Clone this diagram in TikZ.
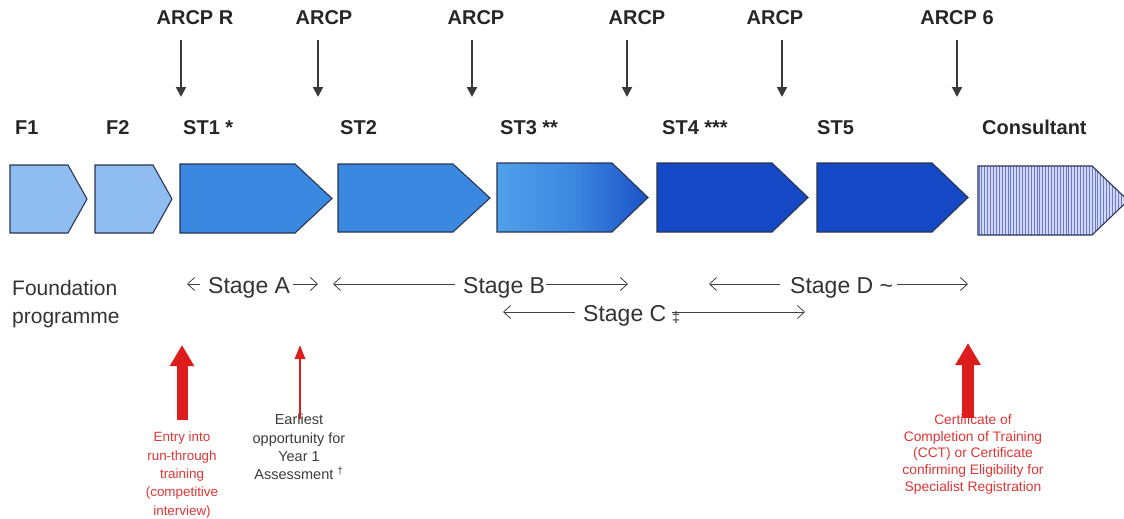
\documentclass[tikz,border=0pt]{standalone}
\usepackage{fontspec}
\setmainfont{Liberation Sans}
\usetikzlibrary{arrows.meta}
\definecolor{lightb}{HTML}{8FBDF2}
\definecolor{midb}{HTML}{3A88E0}
\definecolor{darkb}{HTML}{1448C4}
\definecolor{grl}{HTML}{4FA0EA}
\definecolor{grm}{HTML}{3D88E0}
\definecolor{grr}{HTML}{1A52C8}
\definecolor{edgec}{HTML}{2A3550}
\definecolor{arcpc}{HTML}{3A3A3A}
\definecolor{redA}{HTML}{DD1C1C}
\definecolor{redT}{HTML}{E03535}
\definecolor{grayT}{HTML}{3C3C3C}
\definecolor{consbase}{HTML}{D3D8F6}
\definecolor{consline}{HTML}{6A7AD8}
\begin{document}
\begin{tikzpicture}[x=1pt,y=-1pt,
  chev/.style={draw=edgec,line width=1.1pt,line join=miter},
  arcplbl/.style={font=\fontsize{20}{24}\selectfont\bfseries,text=black!85,inner sep=0pt,anchor=base},
  stlbl/.style={font=\fontsize{20}{24}\selectfont\bfseries,text=black!85,inner sep=0pt,anchor=base west},
  arcparrow/.style={draw=arcpc,line width=2pt,-{Triangle[length=10pt,width=10pt]}},
  stagelbl/.style={font=\fontsize{23}{27}\selectfont,text=black!80,inner sep=0pt,anchor=base west},
  stagearrow/.style={draw=black!75,line width=0.8pt,-{Straight Barb[length=7pt,width=13pt]}},
]
\useasboundingbox (0,0) rectangle (1124,519);

% ---- chevrons ----
\filldraw[chev,fill=lightb] (10,165) -- (68,165) -- (87,199) -- (68,233) -- (10,233) -- cycle;
\filldraw[chev,fill=lightb] (95,165) -- (153,165) -- (172,199) -- (153,233) -- (95,233) -- cycle;
\filldraw[chev,fill=midb] (180,164) -- (295,164) -- (332,198.5) -- (295,233) -- (180,233) -- cycle;
\filldraw[chev,fill=midb] (338,164) -- (453,164) -- (490,198) -- (453,232) -- (338,232) -- cycle;
\shadedraw[chev,left color=grl,right color=grr,middle color=grm] (497,163) -- (612,163) -- (648,197.5) -- (612,232) -- (497,232) -- cycle;
\filldraw[chev,fill=darkb] (657,163) -- (772,163) -- (808,197.5) -- (772,232) -- (657,232) -- cycle;
\filldraw[chev,fill=darkb] (817,163) -- (932,163) -- (968,197.5) -- (932,232) -- (817,232) -- cycle;
\fill[consbase] (978,166) -- (1092,166) -- (1128,200.5) -- (1092,235) -- (978,235) -- cycle;
\begin{scope}
\clip (978,166) -- (1092,166) -- (1128,200.5) -- (1092,235) -- (978,235) -- cycle;
\foreach \x in {979,981.9,...,1130} \draw[consline,line width=0.85pt] (\x,160) -- (\x,240);
\end{scope}
\draw[chev] (978,166) -- (1092,166) -- (1128,200.5) -- (1092,235) -- (978,235) -- cycle;

% ---- stage labels ----
\node[stlbl] (f1) at (15,134) {F1};
\node[stlbl] (f2) at (106,134) {F2};
\node[stlbl] (st1) at (183,134) {ST1 *};
\node[stlbl] (st2) at (340,134) {ST2};
\node[stlbl] (st3) at (500,134) {ST3 **};
\node[stlbl] (st4) at (662,134) {ST4 ***};
\node[stlbl] (st5) at (817,134) {ST5};
\node[stlbl] (cons) at (982,134) {Consultant};

% ---- ARCP ----
\node[arcplbl] (a1) at (195,25) {ARCP R};
\node[arcplbl] (a2) at (324,25) {ARCP};
\node[arcplbl] (a3) at (476,25) {ARCP};
\node[arcplbl] (a4) at (637,25) {ARCP};
\node[arcplbl] (a5) at (775,25) {ARCP};
\node[arcplbl] (a6) at (957,25) {ARCP 6};
\foreach \i/\x in {1/181,2/318,3/472,4/627,5/782,6/957}{
  \coordinate (t\i) at (\x,40);
  \coordinate (b\i) at (\x,97);
  \draw[arcparrow] (t\i) -- (b\i);
}

% ---- Foundation ----
\node[font=\fontsize{21}{28}\selectfont,text=black!80,inner sep=0pt,anchor=base west] (fp) at (12,295) {Foundation};
\node[font=\fontsize{21}{28}\selectfont,text=black!80,inner sep=0pt,anchor=base west] (fp2) at (12,323) {programme};

% ---- Stage A ----
\node[stagelbl] (sA) at (208,293) {Stage A};
\coordinate (sAl1) at (200,284); \coordinate (sAl2) at (187,284);
\coordinate (sAr1) at (293,284); \coordinate (sAr2) at (318,284);
\draw[stagearrow] (sAl1) -- (sAl2);
\draw[stagearrow] (sAr1) -- (sAr2);
% ---- Stage B ----
\node[stagelbl] (sB) at (463,293) {Stage B};
\coordinate (sBl1) at (455,284); \coordinate (sBl2) at (333,284);
\coordinate (sBr1) at (546,284); \coordinate (sBr2) at (628,284);
\draw[stagearrow] (sBl1) -- (sBl2);
\draw[stagearrow] (sBr1) -- (sBr2);
% ---- Stage D ----
\node[stagelbl] (sD) at (790,293) {Stage D \textasciitilde};
\coordinate (sDl1) at (780,284); \coordinate (sDl2) at (709,284);
\coordinate (sDr1) at (897,284); \coordinate (sDr2) at (968,284);
\draw[stagearrow] (sDl1) -- (sDl2);
\draw[stagearrow] (sDr1) -- (sDr2);
% ---- Stage C ----
\node[stagelbl] (sC) at (583,321) {Stage C};
\node[font=\fontsize{15}{18}\selectfont,text=black!80,inner sep=0pt] (dd) at (676,318) {‡};
\coordinate (sCl1) at (575,312); \coordinate (sCl2) at (503,312);
\coordinate (sCr1) at (672,312); \coordinate (sCr2) at (805,312);
\draw[stagearrow] (sCl1) -- (sCl2);
\draw[stagearrow] (sCr1) -- (sCr2);

% ---- bottom red arrows and texts ----
\node[font=\fontsize{13.4}{18.3}\selectfont,text=redT,align=center,inner sep=0pt,anchor=north] (entry) at (182,432) {Entry into\\run-through\\training\\(competitive\\interview)};
\node[font=\fontsize{14.5}{18.3}\selectfont,text=grayT,align=center,inner sep=0pt,anchor=north] (early) at (299,414) {Earliest\\opportunity for\\Year 1\\Assessment \textsuperscript{†}};
\node[font=\fontsize{13.8}{16.8}\selectfont,text=redT,align=center,inner sep=0pt,anchor=north] (cct) at (973,414) {Certificate of\\Completion of Training\\(CCT) or Certificate\\confirming Eligibility for\\Specialist Registration};
\coordinate (e1) at (182,420); \coordinate (e2) at (182,345);
\coordinate (y1) at (300,419); \coordinate (y2) at (300,345);
\coordinate (c1) at (968,418); \coordinate (c2) at (968,343);
\draw[draw=redA,line width=11pt,-{Triangle[length=21pt,width=23pt]}] (e1) -- (e2);
\draw[draw=redA,line width=2.6pt,-{Triangle[length=14pt,width=10pt]}] (y1) -- (y2);
\draw[draw=redA,line width=12pt,-{Triangle[length=22pt,width=24pt]}] (c1) -- (c2);
\end{tikzpicture}
\end{document}
